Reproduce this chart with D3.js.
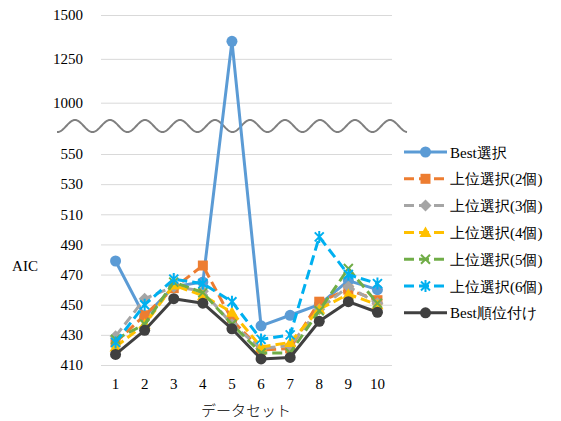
<!DOCTYPE html>
<html><head><meta charset="utf-8">
<script src="https://cdn.jsdelivr.net/npm/d3@7"></script>
<style>body{margin:0;background:#fff}svg{display:block}</style>
</head><body><svg id="c" width="561" height="421"></svg>
<script>
const categories = ["1","2","3","4","5","6","7","8","9","10"];
const seriesNames = ["Best選択","上位選択(2個)","上位選択(3個)","上位選択(4個)","上位選択(5個)","上位選択(6個)","Best順位付け"];
const bestSelect = [479, 442, 462, 465, 1350, 436, 443, 450, 466, 460];
const top2 = [425, 443, 461, 476, 440, 420, 421, 452, 460, 453];
const top3 = [429, 454, 462, 459, 437, 421, 423, 447, 462, 451];
const top4 = [422, 437, 463, 456, 445, 422, 425, 447, 457, 450];
const top5 = [427, 437, 465, 458, 437, 418, 418, 446, 474, 451];
const top6 = [425, 450, 467, 464, 452, 427, 430, 495, 470, 464];
const bestRank = [417, 433, 454, 451, 434, 414, 415, 439, 452, 445];
const yTicks = [410, 430, 450, 470, 490, 510, 530, 550, 1000, 1250, 1500];

const colors = ["#5B9BD5","#ED7D31","#A5A5A5","#FFC000","#70AD47","#00B0F0","#404040"];
const markers = ["circle","square","diamond","triangle","x","asterisk","circle"];
const dashed = [false,true,true,true,true,true,false];
const values = [bestSelect, top2, top3, top4, top5, top6, bestRank];

const SERIF = '"Liberation Serif"';
const svg = d3.select("#c");
const L = 101, R = 392;
const x = d3.scaleBand().domain(categories).range([L, R]);
const y = d3.scaleLinear().domain([410, 550, 1000, 1500]).range([365, 154, 102.7, 15]);

// gridlines + axis labels
svg.append("g").selectAll("line").data(yTicks).join("line")
  .attr("x1", L).attr("x2", R).attr("y1", d => y(d)+0.5).attr("y2", d => y(d)+0.5)
  .attr("stroke", "#d9d9d9").attr("stroke-width", 1);
const yAxis = d3.axisLeft(y).tickValues(yTicks).tickSize(0).tickPadding(18).tickFormat(d3.format("d"));
const ga = svg.append("g").attr("transform", `translate(${L},0)`).call(yAxis);
ga.attr("font-family", null).attr("font-size", null);
ga.select(".domain").remove();
ga.selectAll("text").style("font-family", SERIF).style("font-size","15px").attr("fill","#000");

const xAxis = d3.axisBottom(x).tickSize(0).tickPadding(0);
const gx = svg.append("g").attr("transform", `translate(0,378)`).call(xAxis);
gx.attr("font-family", null).attr("font-size", null);
gx.select(".domain").remove();
gx.selectAll("text").style("font-family", SERIF).style("font-size","15px").attr("fill","#000");

// wavy break line
const wave = [];
for (let px = 57; px <= 407; px += 0.5) {
  wave.push([px, 126 + 6 * Math.cos((px - 57.5) / 35 * 2 * Math.PI)]);
}
svg.append("path").attr("d", d3.line()(wave)).attr("fill","none").attr("stroke","#808080").attr("stroke-width",2);

function drawMarker(g, type, cx, cy, color) {
  if (type === "circle") {
    g.append("circle").attr("cx", cx).attr("cy", cy).attr("r", 5.5).attr("fill", color);
  } else if (type === "square") {
    g.append("rect").attr("x", cx-5).attr("y", cy-5).attr("width", 10).attr("height", 10).attr("fill", color);
  } else if (type === "diamond") {
    g.append("path").attr("d", `M${cx},${cy-6}L${cx+6},${cy}L${cx},${cy+6}L${cx-6},${cy}Z`).attr("fill", color);
  } else if (type === "triangle") {
    g.append("path").attr("d", `M${cx},${cy-6}L${cx+6},${cy+4.5}L${cx-6},${cy+4.5}Z`).attr("fill", color);
  } else if (type === "x") {
    g.append("path").attr("d", `M${cx-4.5},${cy-4.5}L${cx+4.5},${cy+4.5}M${cx+4.5},${cy-4.5}L${cx-4.5},${cy+4.5}`)
      .attr("stroke", color).attr("stroke-width", 2);
  } else if (type === "asterisk") {
    g.append("path").attr("d", `M${cx-4.5},${cy-4.5}L${cx+4.5},${cy+4.5}M${cx+4.5},${cy-4.5}L${cx-4.5},${cy+4.5}M${cx},${cy-6}L${cx},${cy+6}`)
      .attr("stroke", color).attr("stroke-width", 2);
  }
}

const line = d3.line().x((d,i) => x(categories[i]) + x.bandwidth()/2).y(d => y(d));
values.forEach((vals, s) => {
  const g = svg.append("g");
  g.append("path").attr("d", line(vals)).attr("fill","none").attr("stroke", colors[s])
    .attr("stroke-width", 3).attr("stroke-linejoin","round")
    .attr("stroke-dasharray", dashed[s] ? "10,5" : null);
  vals.forEach((v, i) => drawMarker(g, markers[s], x(categories[i]) + x.bandwidth()/2, y(v), colors[s]));
});

// axis titles
svg.append("text").attr("x", 25).attr("y", 271).attr("text-anchor","middle")
  .style("font-family", SERIF).style("font-size","15px").text("AIC");
svg.append("text").attr("x", 246).attr("y", 416).attr("text-anchor","middle")
  .style("font-family",'"Noto Sans CJK JP"').style("font-size","15px").style("font-weight","300").text("データセット");

// legend
const lg = svg.append("g");
seriesNames.forEach((name, s) => {
  const cy = 152 + s * 26.8;
  lg.append("line").attr("x1", 404).attr("x2", 447).attr("y1", cy).attr("y2", cy)
    .attr("stroke", colors[s]).attr("stroke-width", 3)
    .attr("stroke-dasharray", dashed[s] ? "10,5" : null);
  drawMarker(lg, markers[s], 425.5, cy, colors[s]);
  lg.append("text").attr("x", 450).attr("y", cy + 5.5)
    .style("font-family", SERIF).style("font-size","15px").text(name);
});
</script>
</body></html>
